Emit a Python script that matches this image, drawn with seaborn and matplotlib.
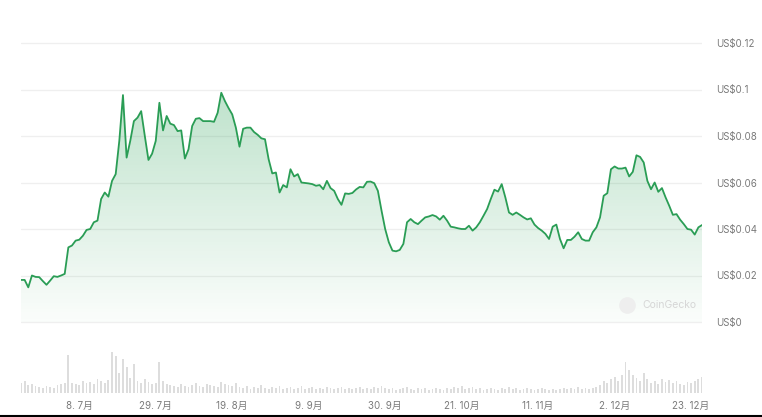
import numpy as np
import pandas as pd
import matplotlib
matplotlib.use("Agg")
import matplotlib.pyplot as plt
import matplotlib.dates as mdates
from matplotlib.colors import LinearSegmentedColormap
from matplotlib.lines import Line2D
import seaborn as sns

# ---------------- data ----------------
start_date = "2024-06-22"

price = [
    0.0181, 0.0181, 0.0149, 0.0200, 0.0194, 0.0193, 0.0176, 0.0160, 0.0178, 0.0197,
    0.0194, 0.0200, 0.0207, 0.0321, 0.0329, 0.0350, 0.0354, 0.0371, 0.0396, 0.0400,
    0.0429, 0.0436, 0.0529, 0.0557, 0.0539, 0.0607, 0.0636, 0.0780, 0.0976, 0.0707,
    0.0779, 0.0864, 0.0879, 0.0907, 0.0800, 0.0697, 0.0724, 0.0779, 0.0943, 0.0824,
    0.0886, 0.0853, 0.0847, 0.0821, 0.0824, 0.0703, 0.0743, 0.0843, 0.0874, 0.0877,
    0.0864, 0.0864, 0.0864, 0.0861, 0.0900, 0.0986, 0.0950, 0.0920, 0.0893, 0.0836,
    0.0754, 0.0831, 0.0836, 0.0836, 0.0817, 0.0805, 0.0790, 0.0786, 0.0700, 0.0639,
    0.0643, 0.0557, 0.0589, 0.0579, 0.0657, 0.0626, 0.0636, 0.0600, 0.0598, 0.0596,
    0.0593, 0.0586, 0.0589, 0.0571, 0.0607, 0.0576, 0.0564, 0.0529, 0.0504, 0.0553,
    0.0551, 0.0555, 0.0570, 0.0581, 0.0579, 0.0603, 0.0604, 0.0597, 0.0564, 0.0479,
    0.0400, 0.0343, 0.0307, 0.0304, 0.0310, 0.0336, 0.0429, 0.0443, 0.0429, 0.0421,
    0.0436, 0.0450, 0.0454, 0.0460, 0.0454, 0.0440, 0.0457, 0.0436, 0.0410, 0.0407,
    0.0403, 0.0400, 0.0400, 0.0414, 0.0393, 0.0407, 0.0429, 0.0457, 0.0486, 0.0529,
    0.0569, 0.0561, 0.0593, 0.0536, 0.0471, 0.0461, 0.0471, 0.0461, 0.0450, 0.0441,
    0.0446, 0.0419, 0.0404, 0.0393, 0.0379, 0.0357, 0.0410, 0.0419, 0.0357, 0.0317,
    0.0353, 0.0353, 0.0367, 0.0386, 0.0357, 0.0350, 0.0350, 0.0386, 0.0407, 0.0450,
    0.0543, 0.0554, 0.0657, 0.0669, 0.0660, 0.0660, 0.0664, 0.0626, 0.0646, 0.0717,
    0.0710, 0.0686, 0.0607, 0.0571, 0.0600, 0.0560, 0.0576, 0.0536, 0.0500, 0.0461,
    0.0464, 0.0440, 0.0421, 0.0400, 0.0397, 0.0376, 0.0407, 0.0417,
]

volume = [
    10, 12, 8, 9, 7, 6, 5, 7, 6, 5,
    8, 9, 10, 37, 10, 9, 8, 12, 10, 11,
    9, 14, 12, 10, 13, 40, 36, 20, 33, 25,
    15, 28, 12, 10, 14, 11, 9, 10, 30, 12,
    9, 8, 7, 6, 9, 7, 6, 8, 10, 7,
    6, 9, 8, 7, 6, 11, 9, 8, 7, 10,
    6, 5, 7, 4, 6, 5, 8, 5, 4, 6,
    5, 7, 4, 5, 6, 4, 5, 7, 4, 5,
    6, 4, 5, 4, 6, 5, 4, 5, 6, 4,
    5, 4, 5, 6, 4, 5, 4, 6, 5, 7,
    5, 4, 5, 3, 4, 5, 6, 4, 3, 5,
    4, 5, 3, 4, 5, 4, 3, 5, 4, 6,
    5, 7, 4, 5, 6, 4, 5, 3, 4, 5,
    4, 3, 5, 4, 6, 4, 5, 3, 4, 5,
    4, 3, 4, 5, 4, 3, 4, 3, 4, 5,
    4, 5, 4, 6, 4, 5, 4, 5, 6, 8,
    12, 10, 14, 16, 12, 18, 30, 22, 18, 15,
    12, 20, 14, 10, 12, 9, 14, 11, 13, 10,
    12, 9, 8, 11, 10, 12, 14, 16,
]

tick_dates = ["2024-07-08", "2024-07-29", "2024-08-19", "2024-09-09", "2024-09-30",
              "2024-10-21", "2024-11-11", "2024-12-02", "2024-12-23"]
tick_labels = ["8. 7月", "29. 7月", "19. 8月", "9. 9月", "30. 9月",
               "21. 10月", "11. 11月", "2. 12月", "23. 12月"]
y_ticks = [0, 0.02, 0.04, 0.06, 0.08, 0.10, 0.12]
y_tick_labels = ["US$0", "US$0.02", "US$0.04", "US$0.06", "US$0.08", "US$0.1", "US$0.12"]

# ---------------- figure ----------------
dates = pd.date_range(start_date, periods=len(price), freq="D")
df = pd.DataFrame({"date": dates, "price": price, "volume": volume})

sns.set_theme(style="white")
plt.rcParams["font.family"] = ["Inter", "Noto Sans CJK SC", "DejaVu Sans"]

W, H = 762, 417
fig = plt.figure(figsize=(W / 100, H / 100), dpi=100)
fig.patch.set_facecolor("white")

left = 21 / W
width = (702 - 21) / W
# price axes: 30px .. 330px (zero at ~322px)
ax = fig.add_axes([left, 1 - 330 / H, width, 300 / H])
# volume axes: 345px .. 393px
axv = fig.add_axes([left, 1 - 393 / H, width, 48 / H], sharex=ax)

line_color = "#2a9d55"

ppu = 279 / 0.12  # pixels per price unit
ymin, ymax = -8 / ppu, 0.12 + 13 / ppu

for v in y_ticks:
    ax.axhline(v, color="#efefef", lw=0.9, zorder=0)

sns.lineplot(data=df, x="date", y="price", ax=ax, color=line_color, lw=1.3, zorder=3)

# gradient fill under the line
xnum = mdates.date2num(dates)
poly = ax.fill_between(dates, price, 0, facecolor="none", edgecolor="none")
cmap = LinearSegmentedColormap.from_list(
    "g", [(0.16, 0.63, 0.33, 0.02), (0.16, 0.63, 0.33, 0.30)])
grad = np.linspace(0, 1, 256).reshape(-1, 1)
img = ax.imshow(grad, extent=[xnum[0], xnum[-1], 0, max(price)], origin="lower",
                aspect="auto", cmap=cmap, zorder=2)
img.set_clip_path(poly.get_paths()[0], transform=ax.transData)

ax.set_xlim(xnum[0], xnum[-1])
ax.set_ylim(ymin, ymax)

ax.yaxis.tick_right()
ax.set_yticks(y_ticks)
ax.set_yticklabels(y_tick_labels)
ax.tick_params(axis="y", length=0, pad=10, labelsize=7, labelcolor="#7a7a7a")
ax.tick_params(axis="x", length=0, labelbottom=False)
ax.set_xlabel("")
ax.set_ylabel("")
for s in ax.spines.values():
    s.set_visible(False)
ax.patch.set_alpha(0)

# watermark
wm_y = (330 - 305) / 300
ax.plot([(627 - 21) / (702 - 21)], [wm_y], marker="o", ms=12, color="#eeeeee",
        mec="none", transform=ax.transAxes, zorder=2.5)
ax.text((642 - 21) / (702 - 21), wm_y, "CoinGecko", transform=ax.transAxes,
        fontsize=7.5, color="#d6d6d6", ha="left", va="center", zorder=2.5)

# volume bars
axv.bar(dates, volume, width=0.5, color="#dddddd", linewidth=0)
axv.set_ylim(0, max(volume) * 48 / 41)
axv.set_yticks([])
axv.set_xlim(xnum[0], xnum[-1])
axv.set_xticks(mdates.date2num(pd.to_datetime(tick_dates)))
axv.set_xticklabels(tick_labels)
axv.tick_params(axis="x", length=0, pad=6, labelsize=7, labelcolor="#7a7a7a")
for s in axv.spines.values():
    s.set_visible(False)
axv.patch.set_alpha(0)

# bottom screenshot border
fig.add_artist(Line2D([0, 1], [0.003, 0.003], transform=fig.transFigure,
                      color="black", lw=1.5))

fig.savefig("out.png", dpi=100, facecolor="white")
